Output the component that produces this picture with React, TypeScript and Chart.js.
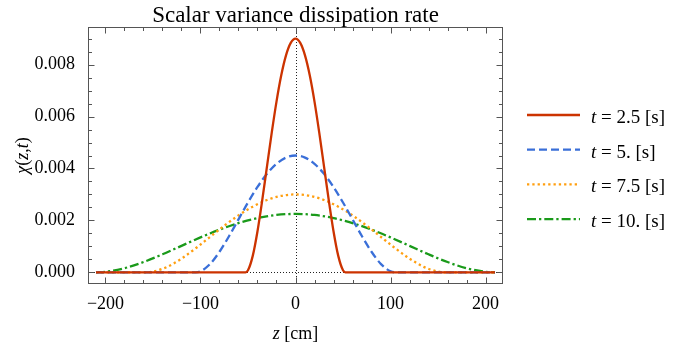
import React, { useEffect, useRef } from 'react';
import { Chart, registerables } from 'chart.js';

Chart.register(...registerables);

// ---- data ----
const zRed = [-210, -52.5, -50, -45, -40, -35, -30, -25, -20, -15, -10, -5, 0, 5, 10, 15, 20, 25, 30, 35, 40, 45, 50, 52.5, 210];
const chiRed = [0, 0, 0.0000778, 0.000633, 0.001584, 0.002778, 0.004082, 0.005381, 0.006577, 0.007591, 0.008359, 0.008837, 0.009, 0.008837, 0.008359, 0.007591, 0.006577, 0.005381, 0.004082, 0.002778, 0.001584, 0.000633, 0.0000778, 0, 0];

const zBlue = [-210, -105, -100, -90, -80, -70, -60, -50, -40, -30, -20, -10, 0, 10, 20, 30, 40, 50, 60, 70, 80, 90, 100, 105, 210];
const chiBlue = [0, 0, 0.0000389, 0.000317, 0.000792, 0.001389, 0.002041, 0.00269, 0.003288, 0.003795, 0.004179, 0.004418, 0.0045, 0.004418, 0.004179, 0.003795, 0.003288, 0.00269, 0.002041, 0.001389, 0.000792, 0.000317, 0.0000389, 0, 0];

const zOrange = [-210, -157.5, -150, -135, -120, -105, -90, -75, -60, -45, -30, -15, 0, 15, 30, 45, 60, 75, 90, 105, 120, 135, 150, 157.5, 210];
const chiOrange = [0, 0, 0.0000259, 0.000211, 0.000528, 0.000926, 0.001361, 0.001794, 0.002192, 0.00253, 0.002786, 0.002946, 0.003, 0.002946, 0.002786, 0.00253, 0.002192, 0.001794, 0.001361, 0.000926, 0.000528, 0.000211, 0.0000259, 0, 0];

const zGreen = [-210, -200, -180, -160, -140, -120, -100, -80, -60, -40, -20, 0, 20, 40, 60, 80, 100, 120, 140, 160, 180, 200, 210];
const chiGreen = [0, 0.0000194, 0.000158, 0.000396, 0.000694, 0.00102, 0.001345, 0.001644, 0.001898, 0.00209, 0.002209, 0.00225, 0.002209, 0.00209, 0.001898, 0.001644, 0.001345, 0.00102, 0.000694, 0.000396, 0.000158, 0.0000194, 0];

const seriesLabels = ['2.5', '5.', '7.5', '10.'];
const xMajorTicks = [-200, -100, 0, 100, 200];
const yMajorTicks = [0, 0.002, 0.004, 0.006, 0.008];

const TITLE = 'Scalar variance dissipation rate';
const SERIF = '"Liberation Serif", "Times New Roman", serif';

const zip = (xs: number[], ys: number[]) => xs.map((x, i) => ({ x, y: ys[i] }));

const decorPlugin = {
  id: 'decor',
  beforeDatasetsDraw(chart: any) {
    const { ctx, chartArea: a, scales } = chart;
    const x0 = Math.round(scales.x.getPixelForValue(0)) + 0.5;
    const y0 = Math.round(scales.y.getPixelForValue(0)) + 0.5;
    ctx.save();
    ctx.strokeStyle = '#222';
    ctx.lineWidth = 1;
    ctx.setLineDash([1, 2]);
    ctx.beginPath();
    ctx.moveTo(x0, a.top);
    ctx.lineTo(x0, a.bottom);
    ctx.moveTo(a.left, y0);
    ctx.lineTo(a.right, y0);
    ctx.stroke();
    ctx.restore();
  },
  afterDatasetsDraw(chart: any) {
    const { ctx, chartArea: a, scales } = chart;
    const L = Math.round(a.left) + 0.5, R = Math.round(a.right) - 0.5;
    const T = Math.round(a.top) + 0.5, B = Math.round(a.bottom) - 0.5;
    ctx.save();
    ctx.strokeStyle = '#555';
    ctx.lineWidth = 1;
    ctx.setLineDash([]);
    ctx.strokeRect(L, T, R - L, B - T);
    ctx.beginPath();
    for (let v = -200; v <= 200; v += 20) {
      const px = Math.round(scales.x.getPixelForValue(v)) + 0.5;
      const len = v % 100 === 0 ? 6 : 3.5;
      ctx.moveTo(px, B); ctx.lineTo(px, B - len);
      ctx.moveTo(px, T); ctx.lineTo(px, T + len);
    }
    for (let k = 0; k <= 18; k++) {
      const v = k * 0.0005;
      const py = Math.round(scales.y.getPixelForValue(v)) + 0.5;
      const len = k % 4 === 0 ? 6 : 3.5;
      ctx.moveTo(L, py); ctx.lineTo(L + len, py);
      ctx.moveTo(R, py); ctx.lineTo(R - len, py);
    }
    ctx.stroke();
    ctx.restore();
  },
  afterDraw(chart: any) {
    const { ctx, chartArea: a } = chart;
    const cx = (a.left + a.right) / 2;
    const cy = (a.top + a.bottom) / 2;
    ctx.save();
    ctx.fillStyle = '#000';
    ctx.textBaseline = 'alphabetic';
    ctx.font = `23px ${SERIF}`;
    ctx.textAlign = 'center';
    ctx.fillText(TITLE, cx, 22);

    const drawParts = (parts: [string, boolean][], x: number, y: number, size: number, center: boolean) => {
      ctx.textAlign = 'left';
      let total = 0;
      for (const [s, it] of parts) {
        ctx.font = `${it ? 'italic ' : ''}${size}px ${SERIF}`;
        total += ctx.measureText(s).width;
      }
      let px = center ? x - total / 2 : x;
      for (const [s, it] of parts) {
        ctx.font = `${it ? 'italic ' : ''}${size}px ${SERIF}`;
        ctx.fillText(s, px, y);
        px += ctx.measureText(s).width;
      }
    };

    drawParts([['z', true], [' [cm]', false]], cx, 339, 18, true);

    ctx.save();
    ctx.translate(28, cy);
    ctx.rotate(-Math.PI / 2);
    drawParts([['χ', true], ['(', false], ['z', true], [',', false], ['t', true], [')', false]], 0, 0, 18, true);
    ctx.restore();

    chart.data.datasets.forEach((ds: any, i: number) => {
      const y = 115 + i * 34.7;
      ctx.save();
      ctx.strokeStyle = ds.borderColor;
      ctx.lineWidth = ds.borderWidth;
      ctx.setLineDash(ds.borderDash || []);
      ctx.lineCap = 'butt';
      ctx.beginPath();
      ctx.moveTo(527, y);
      ctx.lineTo(580, y);
      ctx.stroke();
      ctx.restore();
      drawParts([['t', true], [' = ', false], [`${seriesLabels[i]} [s]`, false]], 591, y + 8, 19, false);
    });
    ctx.restore();
  },
};

export default function App() {
  const ref = useRef<HTMLCanvasElement | null>(null);
  useEffect(() => {
    if (!ref.current) return;
    const common = { borderWidth: 2.3, pointRadius: 0, cubicInterpolationMode: 'monotone' as const, fill: false };
    const chart = new Chart(ref.current, {
      type: 'line',
      data: {
        datasets: [
          { ...common, label: 't = 2.5 [s]', data: zip(zRed, chiRed), borderColor: '#CC3300', borderDash: [] },
          { ...common, label: 't = 5. [s]', data: zip(zBlue, chiBlue), borderColor: '#3A6FD8', borderDash: [8, 4] },
          { ...common, label: 't = 7.5 [s]', data: zip(zOrange, chiOrange), borderColor: '#FF9F10', borderDash: [2.3, 3] },
          { ...common, label: 't = 10. [s]', data: zip(zGreen, chiGreen), borderColor: '#1A9A1A', borderDash: [9, 3, 2.3, 3] },
        ],
      },
      options: {
        responsive: false,
        devicePixelRatio: 1,
        animation: false,
        layout: { padding: { top: 27, right: 194, bottom: 0, left: 0 } },
        plugins: { legend: { display: false }, title: { display: false }, tooltip: { enabled: false } },
        scales: {
          x: {
            type: 'linear',
            min: -218.4,
            max: 218.4,
            grid: { display: false },
            border: { display: false },
            afterBuildTicks: (s: any) => { s.ticks = xMajorTicks.map((v) => ({ value: v })); },
            afterFit: (s: any) => { s.height = 67; },
            ticks: {
              autoSkip: false,
              maxRotation: 0,
              padding: 1,
              color: '#000',
              font: { family: SERIF, size: 18 },
              callback: (v: any) => (Number(v) < 0 ? '\u2212' + Math.abs(Number(v)) : String(v)),
            },
          },
          y: {
            type: 'linear',
            min: -0.00045,
            max: 0.00945,
            grid: { display: false },
            border: { display: false },
            afterBuildTicks: (s: any) => { s.ticks = yMajorTicks.map((v) => ({ value: v })); },
            afterFit: (s: any) => { s.width = 88; },
            ticks: {
              autoSkip: false,
              padding: 5,
              color: '#000',
              font: { family: SERIF, size: 18 },
              callback: (v: any) => Number(v).toFixed(3),
            },
          },
        },
      },
      plugins: [decorPlugin],
    });
    return () => chart.destroy();
  }, []);
  return (
    <div style={{ position: 'fixed', left: 0, top: 0, width: 697, height: 351, background: '#fff' }}>
      <canvas ref={ref} width={697} height={351} style={{ display: 'block' }} />
    </div>
  );
}
